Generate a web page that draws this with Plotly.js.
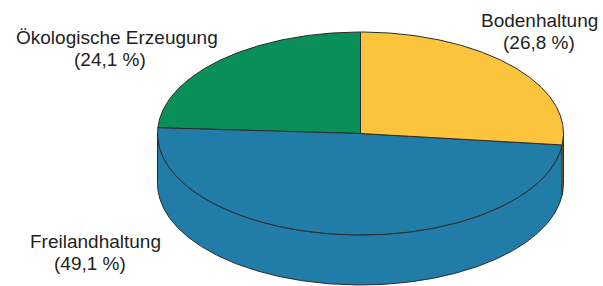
<!DOCTYPE html>
<html><head><meta charset="utf-8">
<script src="https://cdn.plot.ly/plotly-3.0.1.min.js"></script>
<style>html,body{margin:0;padding:0;background:#fff}</style>
</head><body><div id="chart" style="width:603px;height:286px"></div>
<script>
// ---- data ----
const categories = ["Ökologische Erzeugung", "Freilandhaltung", "Bodenhaltung"];
const shares = [24.1, 49.1, 26.8];
const colors = ["#0b8f58", "#217da8", "#fbc43c"];

// ---- geometry / style (pixel-like plotting space) ----
const W = 603, H = 286;
const cx = 360.5, cy = 133.5, rx = 203, ry = 101.5, depth = 50;
const startDeg = 90;              // first slice starts at 12 o'clock, goes counter-clockwise
const edge = "#2b2b2b";
const labelPos = [
  [[117, 43.6], [110, 65.9]],
  [[95.5, 248.1], [90, 270.4]],
  [[539.5, 27.1], [539, 49.4]]
];
const fontSize = 19;

const total = shares.reduce((a, b) => a + b, 0);
const rad = d => d * Math.PI / 180;
function topPt(deg) { return [cx + rx * Math.cos(rad(deg)), cy - ry * Math.sin(rad(deg))]; }
function arc(a, b, dy) {
  const pts = [], n = Math.max(2, Math.ceil(Math.abs(b - a) / 0.5));
  for (let i = 0; i <= n; i++) {
    const d = a + (b - a) * i / n;
    const p = topPt(d);
    pts.push([p[0], p[1] + dy]);
  }
  return pts;
}

const sideTraces = [], topTraces = [];
let acc = startDeg;
shares.forEach((v, i) => {
  const a = acc, b = acc + v / total * 360;
  acc = b;
  // top slice
  const pts = [[cx, cy]].concat(arc(a, b, 0)).concat([[cx, cy]]);
  topTraces.push({
    type: "scatter", mode: "lines", fill: "toself",
    x: pts.map(p => p[0]), y: pts.map(p => p[1]),
    fillcolor: colors[i], line: {color: edge, width: 1},
    hoverinfo: "skip", showlegend: false
  });
  // visible front side: angles in [180, 360] (mod 360)
  [[180, 360], [540, 720]].forEach(([lo, hi]) => {
    const s = Math.max(a, lo), e = Math.min(b, hi);
    if (e > s) {
      const up = arc(s, e, 0), dn = arc(e, s, depth);
      const poly = up.concat(dn).concat([up[0]]);
      sideTraces.push({
        type: "scatter", mode: "lines", fill: "toself",
        x: poly.map(p => p[0]), y: poly.map(p => p[1]),
        fillcolor: colors[i], line: {color: edge, width: 1},
        hoverinfo: "skip", showlegend: false
      });
    }
  });
});

const annotations = [];
categories.forEach((c, i) => {
  const pct = "(" + shares[i].toFixed(1).replace(".", ",") + " %)";
  [c, pct].forEach((t, j) => {
    const [x, base] = labelPos[i][j];
    annotations.push({
      text: t, x: x, y: base - 0.347 * fontSize, xref: "x", yref: "y",
      xanchor: "center", yanchor: "middle", showarrow: false, borderpad: 0,
      font: {family: "Liberation Sans, Arial, sans-serif", size: fontSize, color: "#231f20"}
    });
  });
});

const layout = {
  width: W, height: H,
  margin: {l: 0, r: 0, t: 0, b: 0},
  paper_bgcolor: "#ffffff", plot_bgcolor: "#ffffff",
  xaxis: {range: [0, W], visible: false, fixedrange: true},
  yaxis: {range: [H, 0], visible: false, fixedrange: true},
  showlegend: false,
  annotations: annotations
};

Plotly.newPlot("chart", sideTraces.concat(topTraces), layout, {staticPlot: true, displayModeBar: false});
</script>
</body></html>
